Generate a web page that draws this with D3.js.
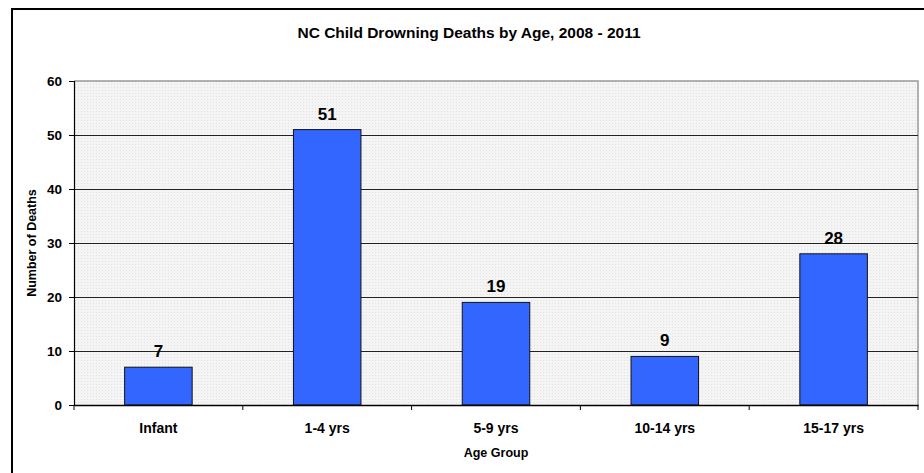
<!DOCTYPE html>
<html><head><meta charset="utf-8">
<script src="https://cdn.jsdelivr.net/npm/d3@7"></script>
<style>body{margin:0;background:#fff}svg{display:block}text{font-family:"Liberation Sans",Arial,sans-serif;font-weight:bold;fill:#000}</style>
</head><body>
<svg id="c" width="924" height="473"></svg>
<script>
const categories = ["Infant", "1-4 yrs", "5-9 yrs", "10-14 yrs", "15-17 yrs"];
const deaths = [7, 51, 19, 9, 28];
const yTicks = [0, 10, 20, 30, 40, 50, 60];
const titleText = "NC Child Drowning Deaths by Age, 2008 - 2011";
const xTitle = "Age Group";
const yTitle = "Number of Deaths";

const svg = d3.select("#c");
const m = {left: 74, top: 81, right: 918, bottom: 405};

// outer frame
svg.append("rect").attr("x", 12).attr("y", 9).attr("width", 930).attr("height", 480)
  .attr("fill", "#fff").attr("stroke", "#000").attr("stroke-width", 2);

const defs = svg.append("defs");
const pat = defs.append("pattern").attr("id", "dots").attr("width", 3).attr("height", 3).attr("patternUnits", "userSpaceOnUse");
pat.append("rect").attr("width", 3).attr("height", 3).attr("fill", "#f4f4f4");
pat.append("rect").attr("width", 1).attr("height", 1).attr("fill", "#e2e2e2");

const x = d3.scaleBand().domain(categories).range([m.left, m.right]).paddingInner(0.6).paddingOuter(0.3);
const y = d3.scaleLinear().domain([0, 60]).range([m.bottom, m.top]);

svg.append("rect").attr("x", m.left).attr("y", m.top).attr("width", m.right - m.left).attr("height", m.bottom - m.top)
  .attr("fill", "url(#dots)");
// top/right plot border
svg.append("path").attr("d", `M${m.left},${m.top}H${m.right}V${m.bottom}`).attr("fill", "none").attr("stroke", "#999").attr("stroke-width", 1.5);

// gridlines
svg.append("g").selectAll("line").data(yTicks.filter(t => t > 0 && t < 60)).join("line")
  .attr("x1", m.left).attr("x2", m.right).attr("y1", d => Math.round(y(d)) + 0.5).attr("y2", d => Math.round(y(d)) + 0.5)
  .attr("stroke", "#222").attr("stroke-width", 1);

// bars
svg.append("g").selectAll("rect").data(categories).join("rect")
  .attr("x", d => x(d)).attr("width", x.bandwidth())
  .attr("y", (d, i) => y(deaths[i])).attr("height", (d, i) => y(0) - y(deaths[i]))
  .attr("fill", "#3366FF").attr("stroke", "#111").attr("stroke-width", 1);

// value labels
svg.append("g").selectAll("text").data(categories).join("text")
  .attr("x", d => x(d) + x.bandwidth() / 2).attr("y", (d, i) => y(deaths[i]) - 10)
  .attr("text-anchor", "middle").style("font-size", "17px").text((d, i) => deaths[i]);

// y axis
const yAxis = svg.append("g").attr("transform", `translate(${m.left},0)`)
  .call(d3.axisLeft(y).tickValues(yTicks).tickSize(5).tickPadding(7).tickFormat(d3.format("d")));
yAxis.select(".domain").attr("stroke", "#000").attr("stroke-width", 1.2);
yAxis.selectAll("text").style("font-size", "13.5px").attr("font-family", null);
yAxis.selectAll(".tick line").attr("stroke", "#000");

// x axis
const xAxis = svg.append("g").attr("transform", `translate(0,${m.bottom})`)
  .call(d3.axisBottom(x).tickSize(0).tickPadding(18));
xAxis.select(".domain").attr("stroke", "#000").attr("stroke-width", 1.5);
xAxis.selectAll("text").style("font-size", "14px").attr("font-family", null);
// boundary ticks
const step = x.step();
const bounds = d3.range(categories.length + 1).map(i => m.left + i * step);
xAxis.append("g").selectAll("line").data(bounds).join("line")
  .attr("x1", d => d).attr("x2", d => d).attr("y1", 0).attr("y2", 5).attr("stroke", "#000");

// titles
svg.append("text").attr("x", 469).attr("y", 38).attr("text-anchor", "middle").style("font-size", "15.5px").text(titleText);
svg.append("text").attr("x", 496).attr("y", 457).attr("text-anchor", "middle").style("font-size", "12.5px").text(xTitle);
svg.append("text").attr("transform", `translate(36,${(m.top + m.bottom) / 2}) rotate(-90)`)
  .attr("text-anchor", "middle").style("font-size", "12.5px").text(yTitle);
</script>
</body></html>
